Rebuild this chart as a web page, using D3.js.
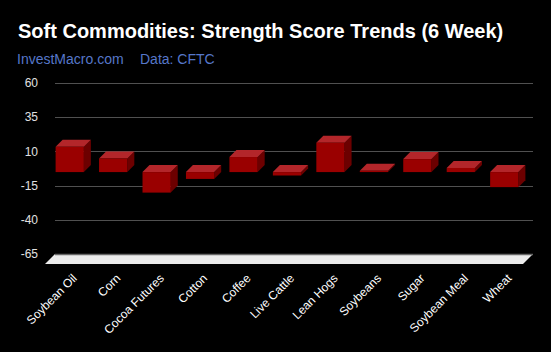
<!DOCTYPE html>
<html>
<head>
<meta charset="utf-8">
<script src="https://cdn.jsdelivr.net/npm/d3@7"></script>
<style>
  html, body { margin: 0; padding: 0; background: #000; }
  svg { display: block; font-family: "Liberation Sans", Arial, sans-serif; }
</style>
</head>
<body>
<div id="graph"></div>
<script>
var categories = ['Soybean Oil', 'Corn', 'Cocoa Futures', 'Cotton', 'Coffee', 'Live Cattle',
  'Lean Hogs', 'Soybeans', 'Sugar', 'Soybean Meal', 'Wheat']
var scores = [18.5, 10, -15, -5, 11, -2.5, 21.5, 1, 9.5, 3, -11]
var yTicks = [60, 35, 10, -15, -40, -65]

var width = 551, height = 352
var depth = 7      // bar depth offset
var floorDepth = 10

var svg = d3.select('#graph').append('svg')
  .attr('width', width)
  .attr('height', height)

svg.append('rect').attr('width', width).attr('height', height).attr('fill', '#000')

// title
svg.append('text')
  .attr('x', 18).attr('y', 38)
  .attr('fill', '#fff')
  .attr('font-size', 20)
  .attr('font-weight', 'bold')
  .text('Soft Commodities: Strength Score Trends (6 Week)')

var sub = svg.append('g').attr('fill', '#5677c9').attr('font-size', 14)
sub.append('text').attr('x', 17).attr('y', 64).text('InvestMacro.com')
sub.append('text').attr('x', 140).attr('y', 64).text('Data: CFTC')

// scales (back plane)
var x = d3.scaleBand()
  .domain(categories)
  .range([55, 533])
  .paddingInner(0.35)
  .paddingOuter(0.175)

var y = d3.scaleLinear()
  .domain([-65, 60])
  .range([254, 83])

// gridlines
svg.append('g')
  .selectAll('line')
  .data(yTicks.filter(d => d > -65))
  .join('line')
  .attr('x1', 55).attr('x2', 533)
  .attr('y1', d => Math.round(y(d)) + .5)
  .attr('y2', d => Math.round(y(d)) + .5)
  .attr('stroke', '#505050')

// y tick labels
svg.append('g')
  .selectAll('text')
  .data(yTicks)
  .join('text')
  .attr('x', 38)
  .attr('y', d => y(d))
  .attr('dy', '0.35em')
  .attr('text-anchor', 'end')
  .attr('fill', '#e0e0e0')
  .attr('font-size', 12)
  .text(d => d)

// floor
var fy = y(-65)
svg.append('path')
  .attr('d', 'M' + [55, fy] + 'L' + [533, fy] + 'L' + [533 - floorDepth, fy + floorDepth]
    + 'L' + [55 - floorDepth, fy + floorDepth] + 'Z')
  .attr('fill', '#ececec')
svg.append('line')
  .attr('x1', 55).attr('x2', 533)
  .attr('y1', fy + .5).attr('y2', fy + .5)
  .attr('stroke', '#666')
  .attr('stroke-width', 1.5)

// bars
var bars = svg.append('g')
  .selectAll('g')
  .data(categories.map((c, i) => ({c, v: scores[i]})))
  .join('g')

function pts(arr){ return 'M' + arr.map(p => p.join(',')).join('L') + 'Z' }

bars.each(function(d){
  var g = d3.select(this)
  var bx0 = x(d.c), bx1 = x(d.c) + x.bandwidth()
  var top = y(Math.max(0, d.v)), bot = y(Math.min(0, d.v))
  var fx0 = bx0 - depth, fx1 = bx1 - depth
  var ftop = top + depth, fbot = bot + depth

  // right side
  g.append('path')
    .attr('d', pts([[fx1, ftop], [bx1, top], [bx1, bot], [fx1, fbot]]))
    .attr('fill', '#6c0000')
  // top face
  g.append('path')
    .attr('d', pts([[fx0, ftop], [fx1, ftop], [bx1, top], [bx0, top]]))
    .attr('fill', '#b3262a')
  // front face
  g.append('rect')
    .attr('x', fx0).attr('y', ftop)
    .attr('width', fx1 - fx0).attr('height', Math.max(0, fbot - ftop))
    .attr('fill', '#9a0000')
})

// category labels
svg.append('g')
  .selectAll('text')
  .data(categories)
  .join('text')
  .attr('transform', d => 'translate(' + (x(d) + x.bandwidth() / 2 - depth + 8) + ',279) rotate(-45)')
  .attr('text-anchor', 'end')
  .attr('fill', '#fff')
  .attr('font-size', 12)
  .text(d => d)
</script>
</body>
</html>
